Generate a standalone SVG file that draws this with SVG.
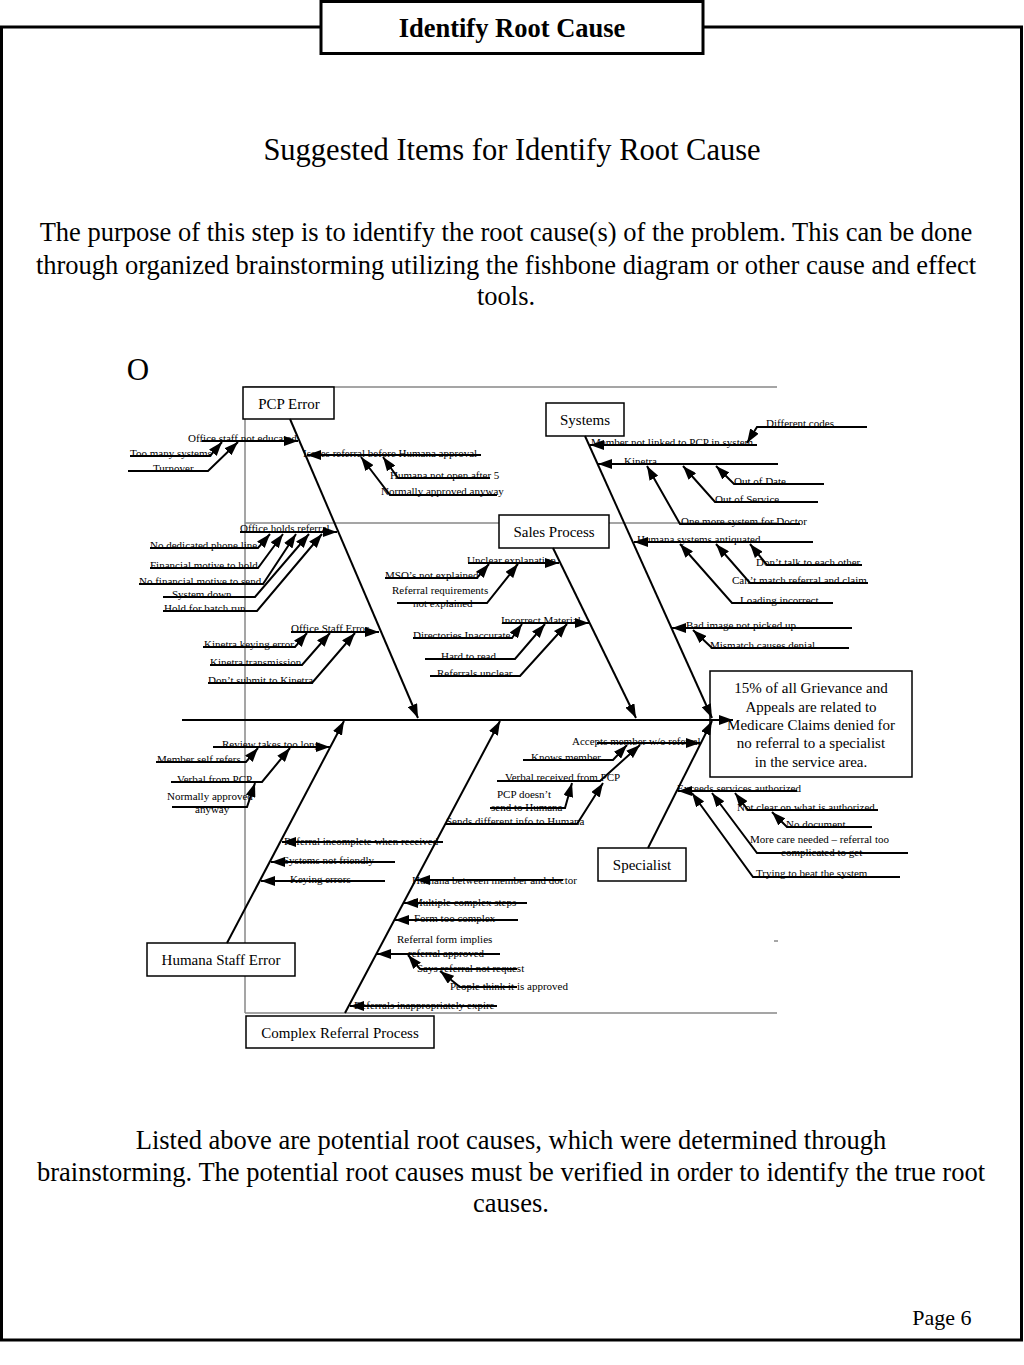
<svg xmlns="http://www.w3.org/2000/svg" width="1024" height="1365" viewBox="0 0 1024 1365">
<style>
text{font-family:"Liberation Serif","Times New Roman",serif;fill:#000}
.s{font-size:11px}
.b{font-size:15px;text-anchor:middle}
.e{font-size:15px;text-anchor:middle}
.p{font-size:26.5px}
.box{fill:#fff;stroke:#000;stroke-width:1.5}
.g{stroke:#888;stroke-width:1.5;fill:none}
.c path{fill:none;stroke:#000;stroke-width:2;marker-end:url(#ah)}
</style>
<defs>
<marker id="ah" markerUnits="userSpaceOnUse" viewBox="0 0 14 10" refX="14" refY="5" markerWidth="14" markerHeight="10" orient="auto"><path d="M0,0 L14,5 L0,10 z" fill="#000"/></marker>
</defs>
<rect x="0" y="0" width="1024" height="1365" fill="#fff"/>
<rect x="1.5" y="27" width="1020" height="1313" fill="none" stroke="#000" stroke-width="3"/>
<g id="title">
<rect x="321" y="1.5" width="382" height="52" fill="#fff" stroke="#000" stroke-width="3"/>
<text x="512" y="37" style="font-size:26.5px;font-weight:bold;text-anchor:middle">Identify Root Cause</text>
</g>
<g id="intro" style="text-anchor:middle">
<text x="512" y="160" style="font-size:30.5px">Suggested Items for Identify Root Cause</text>
<text class="p" x="506" y="241">The purpose of this step is to identify the root cause(s) of the problem. This can be done</text>
<text class="p" x="506" y="274">through organized brainstorming  utilizing the fishbone diagram or other cause and effect</text>
<text class="p" x="506" y="305">tools.</text>
<text x="138" y="380" style="font-size:31px">O</text>
</g>
<g id="frame-lines">
<path class="g" d="M245,387 V1013 M245,387 H777 M245,523 H777 M245,1013 H777"/>
<path class="g" d="M774,941 H778"/>
</g>
<g id="effect">
<rect class="box" x="710" y="671" width="202" height="106"/>
<text class="e" x="811" y="693">15% of all Grievance and</text>
<text class="e" x="811" y="712">Appeals are related to</text>
<text class="e" x="811" y="730">Medicare Claims denied for</text>
<text class="e" x="811" y="748">no referral to a specialist</text>
<text class="e" x="811" y="767">in the service area.</text>
</g>
<g id="pcp-error">
<rect class="box" x="243" y="387" width="91" height="32"/>
<text class="b" x="289" y="409">PCP Error</text>
<text class="s" x="188" y="442">Office staff not educated</text>
<text class="s" x="130" y="457">Too many systems</text>
<text class="s" x="153" y="472">Turnover</text>
<text class="s" x="303" y="457">Issues referral before Humana approval</text>
<text class="s" x="390" y="479">Humana not open after 5</text>
<text class="s" x="381" y="495">Normally approved anyway</text>
<text class="s" x="240" y="532">Office holds referral</text>
<text class="s" x="150" y="549">No dedicated phone line</text>
<text class="s" x="150" y="569">Financial motive to hold</text>
<text class="s" x="139" y="585">No financial motive to send</text>
<text class="s" x="172" y="598">System down</text>
<text class="s" x="164" y="612">Hold for batch run</text>
<text class="s" x="291" y="632">Office Staff Error</text>
<text class="s" x="204" y="648">Kinetra keying error</text>
<text class="s" x="210" y="666">Kinetra transmission</text>
<text class="s" x="208" y="684">Don’t submit to Kinetra</text>
</g>
<g id="systems">
<rect class="box" x="546" y="403" width="78" height="33"/>
<text class="b" x="585" y="425">Systems</text>
<text class="s" x="591" y="446">Member not linked to PCP in system</text>
<text class="s" x="766" y="427">Different codes</text>
<text class="s" x="624" y="465">Kinetra</text>
<text class="s" x="734" y="485">Out of Date</text>
<text class="s" x="715" y="503">Out of Service</text>
<text class="s" x="681" y="525">One more system for Doctor</text>
<text class="s" x="637" y="543">Humana systems  antiquated</text>
<text class="s" x="756" y="566">Don’t talk to each other</text>
<text class="s" x="732" y="584">Can’t match referral and claim</text>
<text class="s" x="740" y="604">Loading incorrect</text>
<text class="s" x="686" y="629">Bad image not picked up</text>
<text class="s" x="710" y="649">Mismatch causes denial</text>
</g>
<g id="sales-process">
<rect class="box" x="499" y="515" width="110" height="33"/>
<text class="b" x="554" y="537">Sales Process</text>
<text class="s" x="467" y="564">Unclear explanation</text>
<text class="s" x="385" y="579">MSO’s not explained</text>
<text class="s" x="392" y="594">Referral requirements</text>
<text class="s" x="413" y="607">not explained</text>
<text class="s" x="501" y="624">Incorrect Material</text>
<text class="s" x="413" y="639">Directories Inaccurate</text>
<text class="s" x="441" y="660">Hard to read</text>
<text class="s" x="437" y="677">Referrals unclear</text>
</g>
<g id="humana-staff-error">
<rect class="box" x="147" y="943" width="148" height="33"/>
<text class="b" x="221" y="965">Humana Staff Error</text>
<text class="s" x="222" y="748">Review takes too long</text>
<text class="s" x="157" y="763">Member self refers</text>
<text class="s" x="177" y="783">Verbal from PCP</text>
<text class="s" x="167" y="800">Normally approved</text>
<text class="s" x="195" y="813">anyway</text>
<text class="s" x="284" y="845">Referral incomplete when received</text>
<text class="s" x="283" y="864">Systems not friendly</text>
<text class="s" x="290" y="883">Keying errors</text>
</g>
<g id="complex-referral-process">
<rect class="box" x="246" y="1016" width="188" height="32"/>
<text class="b" x="340" y="1038">Complex Referral Process</text>
<text class="s" x="412" y="884">Humana between member and doctor</text>
<text class="s" x="413" y="906">Multiple complex steps</text>
<text class="s" x="414" y="922">Form too complex</text>
<text class="s" x="397" y="943">Referral form implies</text>
<text class="s" x="408" y="957">referral approved</text>
<text class="s" x="417" y="972">Says referral not request</text>
<text class="s" x="450" y="990">People think it is approved</text>
<text class="s" x="354" y="1009">Referrals inappropriately expire</text>
</g>
<g id="specialist">
<rect class="box" x="598" y="848" width="88" height="33"/>
<text class="b" x="642" y="870">Specialist</text>
<text class="s" x="572" y="745">Accepts member w/o referral</text>
<text class="s" x="531" y="761">Knows member</text>
<text class="s" x="505" y="781">Verbal received from PCP</text>
<text class="s" x="497" y="798">PCP doesn’t</text>
<text class="s" x="491" y="811">send to Humana</text>
<text class="s" x="446" y="825">Sends different info to Humana</text>
<text class="s" x="677" y="792">Exceeds services authorized</text>
<text class="s" x="737" y="811">Not clear on what is authorized</text>
<text class="s" x="786" y="828">No document</text>
<text class="s" x="750" y="843">More care needed – referral too</text>
<text class="s" x="781" y="856">complicated to get</text>
<text class="s" x="756" y="877">Trying to beat the system</text>
</g>
<g id="connectors" class="c">
<path d="M182,720 L733,720"/>
<path d="M290,419 L418,718"/>
<path d="M585,436 L712,718"/>
<path d="M553,548 L636,718"/>
<path d="M227,943 L344,721"/>
<path d="M345,1013 L500,721"/>
<path d="M648,848 L712,721"/>
<path d="M202,441 L298,441"/>
<path d="M130,456 L210,456 L222,442"/>
<path d="M128,471 L208,471 L238,442"/>
<path d="M481,455 L307,455"/>
<path d="M490,478 L398,478 L383,457"/>
<path d="M497,495 L390,495 L361,457"/>
<path d="M240,532 L337,532"/>
<path d="M150,548 L258,548 L270,534"/>
<path d="M150,568 L258,568 L283,534"/>
<path d="M139,584 L263,584 L296,534"/>
<path d="M163,597 L255,597 L309,534"/>
<path d="M163,611 L257,611 L322,534"/>
<path d="M291,632 L379,632"/>
<path d="M203,647 L295,647 L307,633"/>
<path d="M210,665 L302,665 L330,633"/>
<path d="M208,683 L312,683 L355,633"/>
<path d="M757,445 L590,445"/>
<path d="M867,427 L757,427 L747,443"/>
<path d="M778,464 L598,464"/>
<path d="M824,484 L734,484 L716,466"/>
<path d="M818,502 L715,502 L683,466"/>
<path d="M800,524 L680,524 L647,466"/>
<path d="M813,542 L634,542"/>
<path d="M862,565 L767,565 L750,544"/>
<path d="M868,583 L750,583 L716,544"/>
<path d="M833,603 L732,603 L680,544"/>
<path d="M852,628 L672,628"/>
<path d="M849,648 L712,648 L693,630"/>
<path d="M468,563 L559,563"/>
<path d="M385,578 L477,578 L489,564"/>
<path d="M397,603 L487,603 L518,564"/>
<path d="M502,623 L589,623"/>
<path d="M413,638 L512,638 L522,624"/>
<path d="M425,659 L515,659 L545,624"/>
<path d="M430,676 L520,676 L567,624"/>
<path d="M213,747 L330,747"/>
<path d="M156,762 L246,762 L258,748"/>
<path d="M171,782 L262,782 L290,748"/>
<path d="M172,807 L247,807 L255,783"/>
<path d="M443,842 L282,842"/>
<path d="M395,862 L271,862"/>
<path d="M385,881 L261,881"/>
<path d="M563,880 L416,880"/>
<path d="M527,903 L404,903"/>
<path d="M518,920 L395,920"/>
<path d="M500,954 L377,954"/>
<path d="M517,969 L420,969 L408,955"/>
<path d="M517,987 L460,987 L440,971"/>
<path d="M497,1006 L350,1006"/>
<path d="M597,743 L700,743"/>
<path d="M523,760 L613,760 L627,745"/>
<path d="M497,781 L600,781 L640,745"/>
<path d="M490,808 L565,808 L572,783"/>
<path d="M445,824 L577,824 L603,783"/>
<path d="M797,791 L678,791"/>
<path d="M878,810 L748,810 L735,793"/>
<path d="M872,827 L787,827 L772,812"/>
<path d="M908,853 L757,853 L712,793"/>
<path d="M900,877 L753,877 L692,793"/>
</g>
<g id="footer" style="text-anchor:middle">
<text class="p" x="511" y="1149">Listed above are potential root causes, which were determined through</text>
<text class="p" x="511" y="1181">brainstorming. The potential root causes must be verified in order to identify the true root</text>
<text class="p" x="511" y="1212">causes.</text>
<text x="942" y="1325" style="font-size:22px">Page 6</text>
</g>
</svg>
